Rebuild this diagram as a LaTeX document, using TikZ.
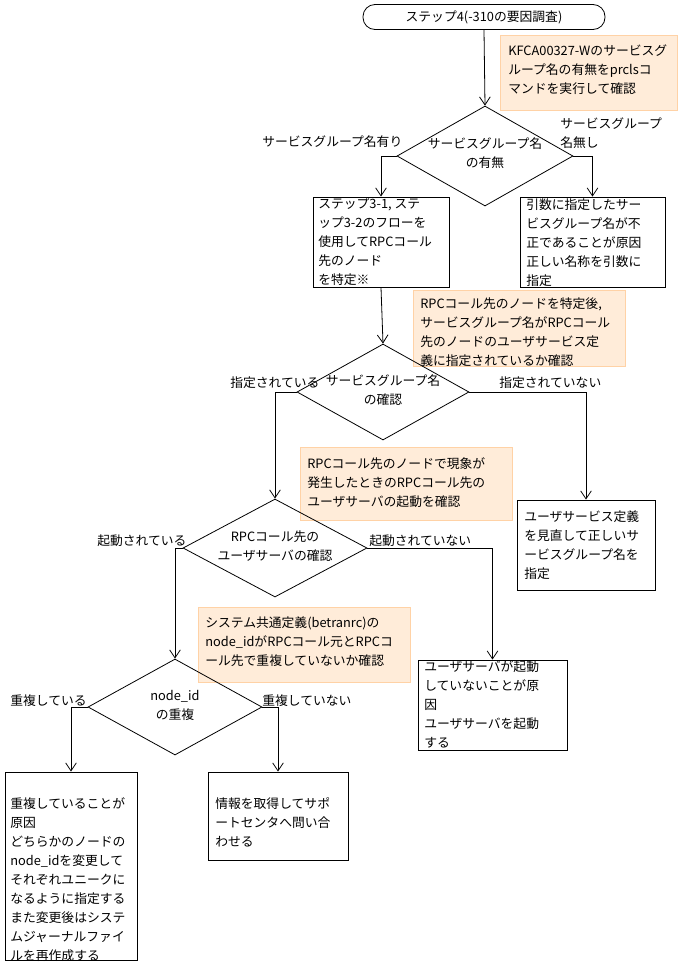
\documentclass[tikz,border=0pt]{standalone}
\usepackage{fontspec}
\setmainfont{Noto Sans CJK JP}
\usetikzlibrary{shapes.geometric,arrows.meta}
\begin{document}
\begin{tikzpicture}[x=0.75pt,y=-0.75pt,
  every node/.style={font=\fontsize{9.6}{14.25}\selectfont},
  box/.style={draw,line width=0.6pt,rectangle,inner sep=0},
  note/.style={draw=orange!35,fill=orange!15,rectangle,inner sep=0},
  txt/.style={anchor=north west,align=left,inner sep=0},
  dia/.style={draw,line width=0.6pt,diamond,inner sep=0,aspect=1.76},
  line/.style={line width=0.6pt},
  arr/.style={line width=0.6pt,-{Straight Barb[length=6pt,width=8pt]}}]
\fill[white] (0,0) rectangle (680,975);
\useasboundingbox (0,0) rectangle (680,975);
% start
\node[draw,line width=0.6pt,rounded corners=9pt,minimum width=181.5pt,minimum height=18.75pt,inner sep=0] (s) at (484,17) {ステップ4(-310の要因調査)};
% notes
\node[note,minimum width=132.75pt,minimum height=56.25pt] (n1) at (588.5,72.5) {};
\node[txt] (n1t) at (508,44) {KFCA00327-Wのサービスグ\\ループ名の有無をprclsコ\\マンドを実行して確認};
\node[note,minimum width=159pt,minimum height=57pt] (n2) at (519,328) {};
\node[txt] (n2t) at (420,297) {RPCコール先のノードを特定後,\\サービスグループ名がRPCコール\\先のノードのユーザサービス定\\義に指定されているか確認};
\node[note,minimum width=159pt,minimum height=54.75pt] (n3) at (406,483.5) {};
\node[txt] (n3t) at (307,457) {RPCコール先のノードで現象が\\発生したときのRPCコール先の\\ユーザサーバの起動を確認};
\node[note,minimum width=159pt,minimum height=56.25pt] (n4) at (304,644.5) {};
\node[txt] (n4t) at (205,616) {システム共通定義(betranrc)の\\node\_idがRPCコール元とRPCコ\\ール先で重複していないか確認};
% diamonds
\node[dia,minimum width=132pt,minimum height=75pt] (d1) at (485,156) {};
\node[align=center,inner sep=0] (d1t) at (485,153) {サービスグループ名\\の有無};
\node[dia,minimum width=129pt,minimum height=72pt] (d2) at (383,392) {};
\node[align=center,inner sep=0] (d2t) at (383,390) {サービスグループ名\\の確認};
\node[dia,minimum width=138pt,minimum height=73.5pt] (d3) at (275,548) {};
\node[align=center,inner sep=0] (d3t) at (275,546) {RPCコール先の\\ユーザサーバの確認};
\node[dia,minimum width=130.5pt,minimum height=72pt] (d4) at (175,707) {};
\node[align=center,inner sep=0] (d4t) at (175,705) {node\_id\\の重複};
% boxes
\node[box,minimum width=102pt,minimum height=67.5pt] (b1) at (381,242) {};
\node[txt] (b1t) at (318,198) {ステップ3-1, ステ\\ップ3-2のフローを\\使用してRPCコール\\先のノード\\を特定※};
\node[box,minimum width=108.75pt,minimum height=67.5pt] (b2) at (592.5,242) {};
\node[txt] (b2t) at (526,198) {引数に指定したサー\\ビスグループ名が不\\正であることが原因\\正しい名称を引数に\\指定};
\node[box,minimum width=103.5pt,minimum height=67.5pt] (b3) at (586,545) {};
\node[txt] (b3t) at (524,510) {ユーザサービス定義\\を見直して正しいサ\\ービスグループ名を\\指定};
\node[box,minimum width=111.75pt,minimum height=67.5pt] (b4) at (492.5,705) {};
\node[txt] (b4t) at (424,660) {ユーザサーバが起動\\していないことが原\\因\\ユーザサーバを起動\\する};
\node[box,minimum width=99pt,minimum height=141pt] (b5) at (71,866) {};
\node[txt] (b5t) at (10,797) {重複していることが\\原因\\どちらかのノードの\\node\_idを変更して\\それぞれユニークに\\なるように指定する\\また変更後はシステ\\ムジャーナルファイ\\ルを再作成する};
\node[box,minimum width=105pt,minimum height=66pt] (b6) at (278,816) {};
\node[txt] (b6t) at (215,797) {情報を取得してサポ\\ートセンタへ問い合\\わせる};
% connectors
\draw[arr] (s.south) -- (d1.north);
\draw[arr] (d1.west) -| (b1.north);
\draw[arr] (d1.east) -| (b2.north);
\draw[arr] (b1.south) -- (d2.north);
\draw[arr] (d2.west) -| (d3.north);
\draw[arr] (d2.east) -| (b3.north);
\draw[arr] (d3.west) -| (d4.north);
\draw[arr] (d3.east) -| (b4.north);
\draw[arr] (d4.west) -| (b5.north);
\draw[arr] (d4.east) -| (b6.north);
% labels
\node[anchor=west,inner sep=0] (l1) at (262,142) {サービスグループ名有り};
\node[anchor=north west,align=left,inner sep=0] (l2) at (560,117) {サービスグループ\\名無し};
\node[anchor=west,inner sep=0] (l3) at (230,383) {指定されている};
\node[anchor=west,inner sep=0] (l4) at (499,383) {指定されていない};
\node[anchor=west,inner sep=0] (l5) at (97,541) {起動されている};
\node[anchor=west,inner sep=0] (l6) at (369,541) {起動されていない};
\node[anchor=west,inner sep=0] (l7) at (10,701) {重複している};
\node[anchor=west,inner sep=0] (l8) at (262,701) {重複していない};
\end{tikzpicture}
\end{document}
